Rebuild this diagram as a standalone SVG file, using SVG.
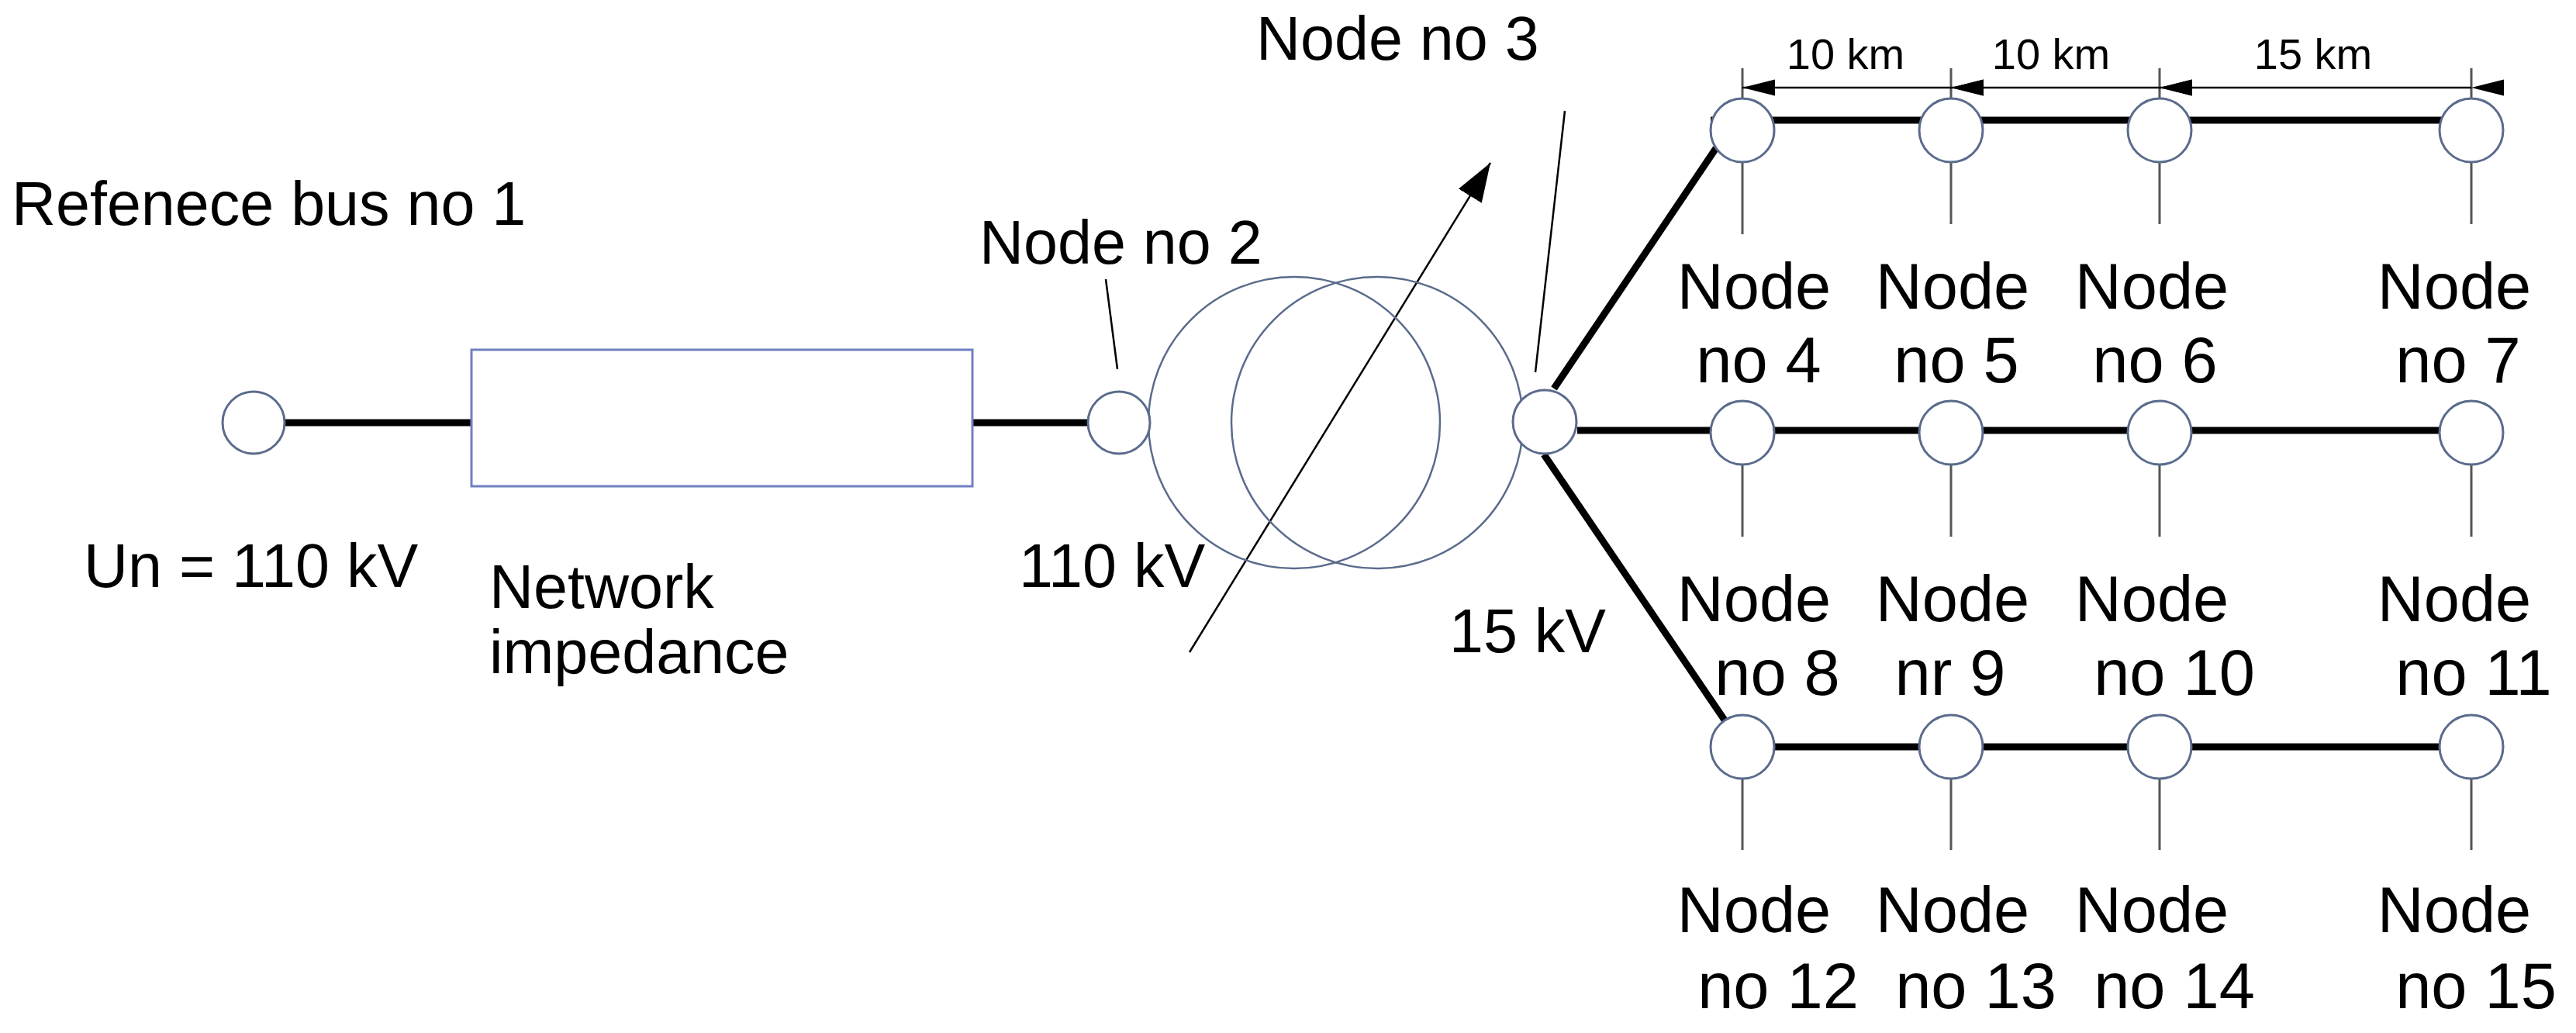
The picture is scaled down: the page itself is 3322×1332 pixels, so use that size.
<svg xmlns="http://www.w3.org/2000/svg" width="3322" height="1332" viewBox="0 0 3322 1332">
<style>
text{font-family:"Liberation Sans",Arial,sans-serif;fill:#000}
.n{fill:#fff;stroke:#5a6b8c;stroke-width:3}
.t{font-size:79px}
.c{font-size:83px;text-anchor:middle}
.k{font-size:56px;text-anchor:middle}
.th{stroke:#000;stroke-width:9;fill:none}
.tn{stroke:#000;stroke-width:2.5;fill:none}
.st{stroke:#555;stroke-width:3;fill:none}
</style>
<defs>
<marker id="big" viewBox="0 0 10 10" refX="10" refY="5" markerWidth="20" markerHeight="20" orient="auto" markerUnits="strokeWidth"><path d="M0,1.5 L10,5 L0,8.5 z" fill="#000"/></marker>
<marker id="dim" viewBox="0 0 10 10" refX="10" refY="5" markerWidth="42" markerHeight="26" orient="auto" markerUnits="userSpaceOnUse" preserveAspectRatio="none"><path d="M0,1 L10,5 L0,9 z" fill="#000"/></marker>
</defs>
<g id="connectors">
<line class="th" x1="367" y1="545" x2="608" y2="545"/>
<line class="th" x1="1254" y1="545" x2="1403" y2="545"/>
<line class="th" x1="2004" y1="501" x2="2213" y2="191"/>
<line class="th" x1="2206" y1="155" x2="3187" y2="155"/>
<line class="th" x1="2034" y1="555" x2="3146" y2="555"/>
<line class="th" x1="1991" y1="586" x2="2225" y2="930"/>
<line class="th" x1="2247" y1="963" x2="3146" y2="963"/>
<line class="tn" x1="1426" y1="360" x2="1441" y2="476"/>
<line class="tn" x1="2018" y1="143" x2="1980" y2="480"/>
<line class="tn" x1="1534" y1="841" x2="1922" y2="210" marker-end="url(#big)"/>
<g class="st">
<line x1="2247" y1="209" x2="2247" y2="302"/><line x1="2516" y1="209" x2="2516" y2="289"/><line x1="2785" y1="209" x2="2785" y2="289"/><line x1="3187" y1="209" x2="3187" y2="289"/>
<line x1="2247" y1="599" x2="2247" y2="692"/><line x1="2516" y1="599" x2="2516" y2="692"/><line x1="2785" y1="599" x2="2785" y2="692"/><line x1="3187" y1="599" x2="3187" y2="692"/>
<line x1="2247" y1="1004" x2="2247" y2="1096"/><line x1="2516" y1="1004" x2="2516" y2="1096"/><line x1="2785" y1="1004" x2="2785" y2="1096"/><line x1="3187" y1="1004" x2="3187" y2="1096"/>
<line x1="2247" y1="88" x2="2247" y2="127"/><line x1="2516" y1="88" x2="2516" y2="127"/><line x1="2785" y1="88" x2="2785" y2="127"/><line x1="3187" y1="88" x2="3187" y2="127"/>
</g>
<g stroke="#000" stroke-width="2.5">
<line x1="2516" y1="113" x2="2247" y2="113" marker-start="url(#dim)" marker-end="url(#dim)"/>
<line x1="2785" y1="113" x2="2516" y2="113" marker-start="url(#dim)" marker-end="url(#dim)"/>
<line x1="3187" y1="113" x2="2785" y2="113" marker-start="url(#dim)" marker-end="url(#dim)"/>
</g>
</g>
<g id="impedance"><rect x="608" y="451" width="646" height="176" fill="none" stroke="#7080c0" stroke-width="3"/></g>
<g id="transformer" fill="none" stroke="#5a6b8c" stroke-width="2.5">
<circle cx="1669" cy="545" r="188"/><circle cx="1776" cy="545" r="188"/>
</g>
<g id="node1"><circle class="n" cx="327" cy="545" r="40"/></g>
<g id="node2"><circle class="n" cx="1443" cy="545" r="40"/></g>
<g id="node3"><circle class="n" cx="1992" cy="544" r="41"/></g>
<g id="node4"><circle class="n" cx="2247" cy="168" r="41"/></g>
<g id="node5"><circle class="n" cx="2516" cy="168" r="41"/></g>
<g id="node6"><circle class="n" cx="2785" cy="168" r="41"/></g>
<g id="node7"><circle class="n" cx="3187" cy="168" r="41"/></g>
<g id="node8"><circle class="n" cx="2247" cy="558" r="41"/></g>
<g id="node9"><circle class="n" cx="2516" cy="558" r="41"/></g>
<g id="node10"><circle class="n" cx="2785" cy="558" r="41"/></g>
<g id="node11"><circle class="n" cx="3187" cy="558" r="41"/></g>
<g id="node12"><circle class="n" cx="2247" cy="963" r="41"/></g>
<g id="node13"><circle class="n" cx="2516" cy="963" r="41"/></g>
<g id="node14"><circle class="n" cx="2785" cy="963" r="41"/></g>
<g id="node15"><circle class="n" cx="3187" cy="963" r="41"/></g>
<g id="labels">
<text class="t" x="15" y="290">Refenece bus no 1</text>
<text class="t" x="1263" y="340">Node no 2</text>
<text class="t" x="1620" y="77">Node no 3</text>
<text class="t" x="108" y="757">Un = 110 kV</text>
<text class="t" x="631" y="784">Network</text>
<text class="t" x="631" y="868">impedance</text>
<text class="t" x="1314" y="757">110 kV</text>
<text class="t" x="1869" y="841">15 kV</text>
<text class="k" x="2380" y="89">10 km</text>
<text class="k" x="2645" y="89">10 km</text>
<text class="k" x="2983" y="89">15 km</text>
<text class="c" x="2262" y="398">Node</text><text class="c" x="2268" y="493">no 4</text>
<text class="c" x="2518" y="398">Node</text><text class="c" x="2523" y="493">no 5</text>
<text class="c" x="2775" y="398">Node</text><text class="c" x="2779" y="493">no 6</text>
<text class="c" x="3165" y="398">Node</text><text class="c" x="3170" y="493">no 7</text>
<text class="c" x="2262" y="801">Node</text><text class="c" x="2292" y="896">no 8</text>
<text class="c" x="2518" y="801">Node</text><text class="c" x="2515" y="896">nr 9</text>
<text class="c" x="2775" y="801">Node</text><text class="c" x="2804" y="896">no 10</text>
<text class="c" x="3165" y="801">Node</text><text class="c" x="3190" y="896">no 11</text>
<text class="c" x="2262" y="1202">Node</text><text class="c" x="2293" y="1300">no 12</text>
<text class="c" x="2518" y="1202">Node</text><text class="c" x="2548" y="1300">no 13</text>
<text class="c" x="2775" y="1202">Node</text><text class="c" x="2804" y="1300">no 14</text>
<text class="c" x="3165" y="1202">Node</text><text class="c" x="3193" y="1300">no 15</text>
</g>
</svg>
